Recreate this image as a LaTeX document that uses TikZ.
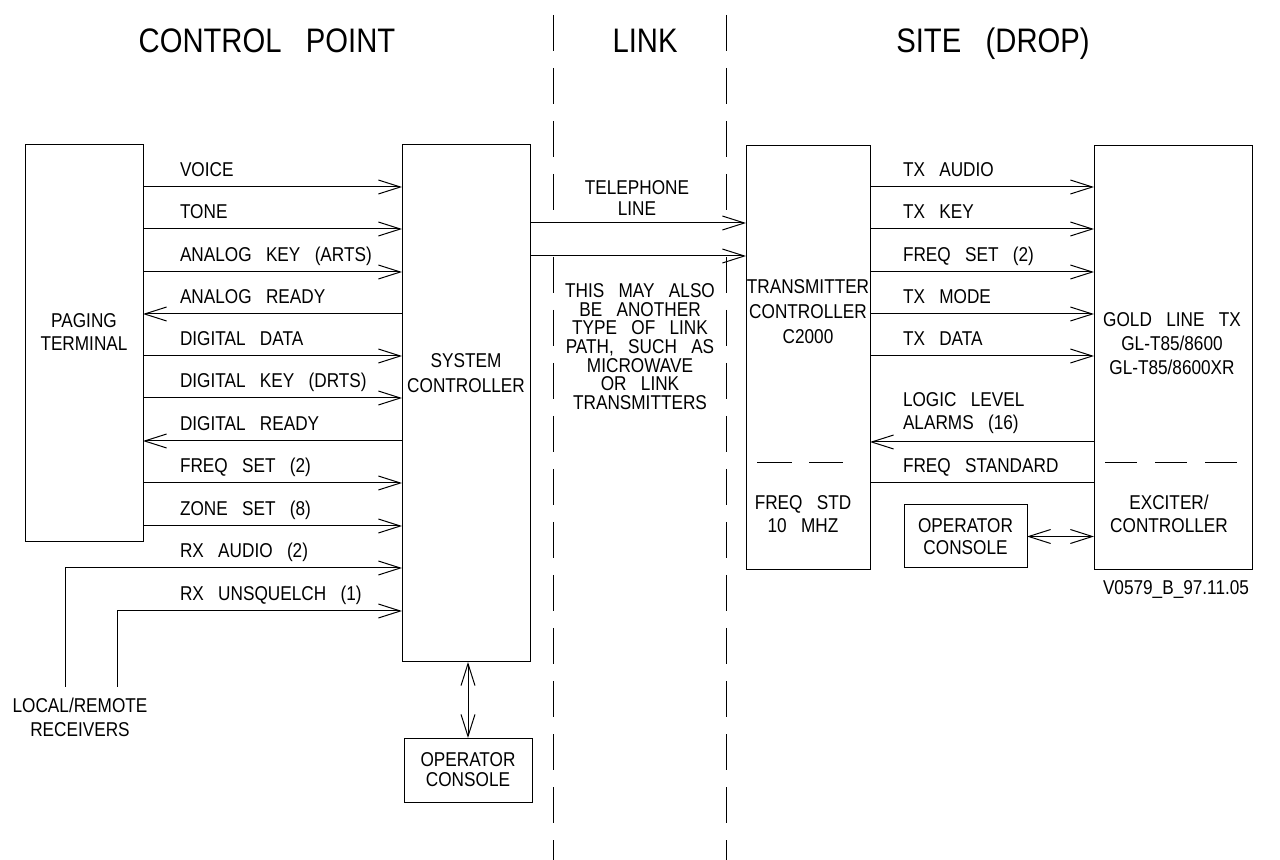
\documentclass[tikz,border=0pt]{standalone}
\usepackage{fontspec}
\setmainfont{Liberation Sans}[FakeStretch=0.86,WordSpace=3]
\usetikzlibrary{arrows.meta}
\begin{document}
\begin{tikzpicture}[x=0.5pt,y=-0.5pt,line width=0.5pt,
  font=\fontsize{10}{12}\selectfont,
  every node/.style={inner sep=0pt,outer sep=0pt},
  box/.style={draw,anchor=north west},
  sig/.style={anchor=base west},
  multi/.style={anchor=north,align=center},
  heading/.style={anchor=base,font=\fontsize{17}{20}\selectfont},
  barb/.tip={Straight Barb[length=11pt,width=7pt]},
  fwd/.style={-barb},
  bwd/.style={barb-},
  both/.style={barb-barb},
  zone/.style={dash pattern=on 18pt off 8.5pt}]

\useasboundingbox (0,0) rectangle (1280,860);

% section headings
\node[heading] (hcp) at (267,53) {CONTROL POINT};
\node[heading] (hlk) at (645,53) {LINK};
\node[heading] (hst) at (993,53) {SITE (DROP)};

% section boundaries
\draw[zone] (553,15) -- (553,213);
\draw[zone] (553,257) -- (553,860);
\draw[zone] (726,15) -- (726,213);
\draw[zone] (726,257) -- (726,860);

% blocks
\node[box,minimum width=59pt,minimum height=198.5pt] (pt) at (25,145) {};
\node[box,minimum width=64pt,minimum height=258.5pt] (sc) at (402,145) {};
\node[box,minimum width=62pt,minimum height=212pt] (tc) at (746,146) {};
\node[box,minimum width=79pt,minimum height=212pt] (gl) at (1094,146) {};
\node[box,minimum width=64pt,minimum height=32pt,align=center,
      font=\fontsize{10}{10}\selectfont] (oc1) at (404,738) {OPERATOR\\CONSOLE};
\node[box,minimum width=61.5pt,minimum height=31.5pt,align=center,
      font=\fontsize{10}{11}\selectfont] (oc2) at (904,505) {OPERATOR\\CONSOLE};

% block titles
\node[multi,font=\fontsize{10}{11.5}\selectfont] (ptt) at (84,313.5) {PAGING\\TERMINAL};
\node[multi,font=\fontsize{10}{12.5}\selectfont] (sct) at (466,353.5) {SYSTEM\\CONTROLLER};
\node[multi,font=\fontsize{10}{12.5}\selectfont] (tct) at (808,279.5) {TRANSMITTER\\CONTROLLER\\C2000};
\node[multi,font=\fontsize{10}{12}\selectfont] (glt) at (1172,312.5) {GOLD LINE TX\\GL-T85/8600\\GL-T85/8600XR};
\node[multi,font=\fontsize{10}{11.5}\selectfont] (fst) at (803,495.5) {FREQ STD\\10 MHZ};
\node[multi,font=\fontsize{10}{11.5}\selectfont] (ext) at (1169,495.5) {EXCITER/\\CONTROLLER};
\node[multi,font=\fontsize{10}{12}\selectfont] (rcv) at (80,698.5) {LOCAL/REMOTE\\RECEIVERS};
\node[multi,font=\fontsize{10}{10.5}\selectfont] (tel) at (637,180.5) {TELEPHONE\\LINE};
\node[multi,font=\fontsize{10}{9.35}\selectfont] (note) at (640,283.5)
  {THIS MAY ALSO\\BE ANOTHER\\TYPE OF LINK\\PATH, SUCH AS\\MICROWAVE\\OR LINK\\TRANSMITTERS};
\node[anchor=base] (ref) at (1176,595) {V0579\_B\_97.11.05};

% signal rows, control point
\foreach \n/\y in {1/187,2/229,3/272,4/314,5/356,6/398,7/441,8/483,9/526,10/568,11/611}
  \coordinate (a\n) at (0,\y);
\coordinate (rxa) at (65,687);
\coordinate (rxu) at (117,687);

\draw[fwd] (pt.east |- a1) -- (sc.west |- a1);
\draw[fwd] (pt.east |- a2) -- (sc.west |- a2);
\draw[fwd] (pt.east |- a3) -- (sc.west |- a3);
\draw[bwd] (pt.east |- a4) -- (sc.west |- a4);
\draw[fwd] (pt.east |- a5) -- (sc.west |- a5);
\draw[fwd] (pt.east |- a6) -- (sc.west |- a6);
\draw[bwd] (pt.east |- a7) -- (sc.west |- a7);
\draw[fwd] (pt.east |- a8) -- (sc.west |- a8);
\draw[fwd] (pt.east |- a9) -- (sc.west |- a9);
\draw[fwd] (rxa) |- (sc.west |- a10);
\draw[fwd] (rxu) |- (sc.west |- a11);

\node[sig] (s1) at (180,177) {VOICE};
\node[sig] (s2) at (180,219) {TONE};
\node[sig] (s3) at (180,262) {ANALOG KEY (ARTS)};
\node[sig] (s4) at (180,304) {ANALOG READY};
\node[sig] (s5) at (180,346) {DIGITAL DATA};
\node[sig] (s6) at (180,388) {DIGITAL KEY (DRTS)};
\node[sig] (s7) at (180,431) {DIGITAL READY};
\node[sig] (s8) at (180,473) {FREQ SET (2)};
\node[sig] (s9) at (180,516) {ZONE SET (8)};
\node[sig] (s10) at (180,558) {RX AUDIO (2)};
\node[sig] (s11) at (180,601) {RX UNSQUELCH (1)};

\draw[both] (oc1.north |- sc.south) -- (oc1.north);

% link
\coordinate (t1) at (0,223);
\coordinate (t2) at (0,256);
\draw[fwd] (sc.east |- t1) -- (tc.west |- t1);
\draw[fwd] (sc.east |- t2) -- (tc.west |- t2);

% signal rows, site
\foreach \n/\y in {1/187,2/229,3/272,4/314,5/356,6/442,7/483}
  \coordinate (b\n) at (0,\y);
\draw[fwd] (tc.east |- b1) -- (gl.west |- b1);
\draw[fwd] (tc.east |- b2) -- (gl.west |- b2);
\draw[fwd] (tc.east |- b3) -- (gl.west |- b3);
\draw[fwd] (tc.east |- b4) -- (gl.west |- b4);
\draw[fwd] (tc.east |- b5) -- (gl.west |- b5);
\draw[bwd] (tc.east |- b6) -- (gl.west |- b6);
\draw (tc.east |- b7) -- (gl.west |- b7);

\node[sig] (u1) at (903,177) {TX AUDIO};
\node[sig] (u2) at (903,219) {TX KEY};
\node[sig] (u3) at (903,262) {FREQ SET (2)};
\node[sig] (u4) at (903,304) {TX MODE};
\node[sig] (u5) at (903,346) {TX DATA};
\node[anchor=north west,align=left,font=\fontsize{10}{11.5}\selectfont] (u6) at (903,392.5) {LOGIC LEVEL\\ALARMS (16)};
\node[sig] (u7) at (903,473) {FREQ STANDARD};

% internal section splits
\draw[dash pattern=on 17.5pt off 8.5pt] (757,463) -- (843,463);
\draw[dash pattern=on 16pt off 9pt] (1105,463) -- (1238,463);

\draw[both] (oc2.east) -- (oc2.east -| gl.west);
\end{tikzpicture}
\end{document}
